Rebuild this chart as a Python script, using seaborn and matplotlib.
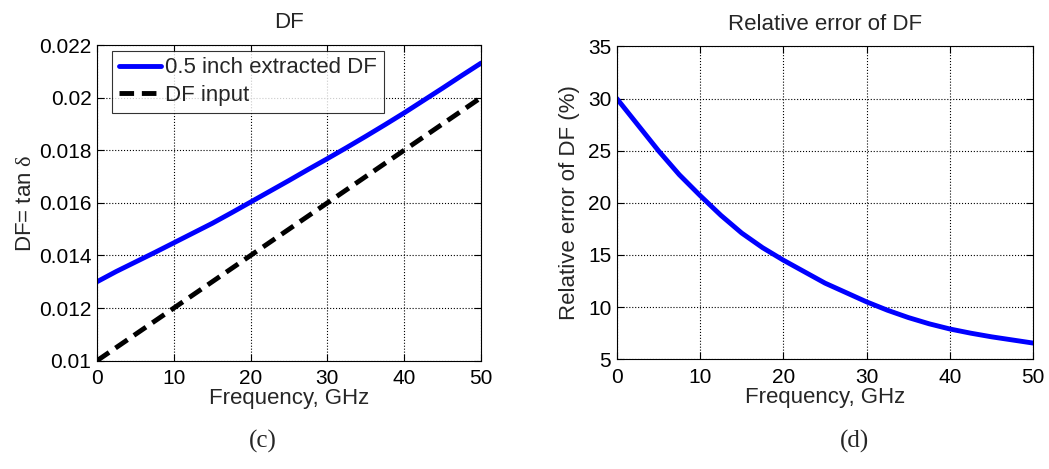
import numpy as np
import pandas as pd
import matplotlib
matplotlib.use("Agg")
import matplotlib.pyplot as plt
import seaborn as sns

freq = [0, 2.5, 5, 7.5, 10, 12.5, 15, 17.5, 20, 22.5, 25, 27.5, 30,
        32.5, 35, 37.5, 40, 42.5, 45, 47.5, 50]
df_extracted = [0.01300, 0.01339, 0.01375, 0.01411, 0.01448, 0.01485, 0.01522,
                0.01562, 0.01603, 0.01644, 0.01685, 0.01727, 0.01768, 0.01810,
                0.01853, 0.01897, 0.01942, 0.01989, 0.02036, 0.02084, 0.02131]
df_input = [0.0100, 0.0105, 0.0110, 0.0115, 0.0120, 0.0125, 0.0130, 0.0135,
            0.0140, 0.0145, 0.0150, 0.0155, 0.0160, 0.0165, 0.0170, 0.0175,
            0.0180, 0.0185, 0.0190, 0.0195, 0.0200]
rel_err = [30.0, 27.5, 25.0, 22.7, 20.7, 18.8, 17.1, 15.7, 14.5, 13.4, 12.3,
           11.4, 10.5, 9.7, 9.0, 8.4, 7.9, 7.5, 7.15, 6.85, 6.55]

sns.set_theme(style="ticks")
plt.rcParams['font.family'] = ['Liberation Sans', 'DejaVu Sans']
plt.rcParams['mathtext.fontset'] = 'custom'
plt.rcParams['mathtext.rm'] = 'Liberation Serif'
plt.rcParams['mathtext.it'] = 'Liberation Serif'

fig = plt.figure(figsize=(10.49, 4.69), dpi=100)
ax1 = fig.add_axes([0.0925, 0.231, 0.366, 0.673])
ax2 = fig.add_axes([0.588, 0.234, 0.397, 0.667])

TFS = 15
LFS = 16

def style(ax):
    ax.grid(True, color='black', linestyle=':', linewidth=0.8)
    ax.tick_params(direction='in', top=True, right=True, labelsize=TFS, length=5,
                   width=0.8, colors='black')
    ax.tick_params(axis='x', pad=6)
    ax.tick_params(axis='y', pad=4)
    for s in ax.spines.values():
        s.set_color('black')
        s.set_linewidth(0.8)
    ax.set_facecolor('white')

d1 = pd.DataFrame({'f': freq, 'ext': df_extracted, 'inp': df_input})
sns.lineplot(data=d1, x='f', y='ext', ax=ax1, color='#0000ff', linewidth=3.5,
             label='0.5 inch extracted DF')
sns.lineplot(data=d1, x='f', y='inp', ax=ax1, color='black', linewidth=3.5,
             linestyle=(0, (3, 1.6)), label='DF input')
ax1.set_xlim(0, 50)
ax1.set_ylim(0.01, 0.022)
ax1.set_xticks([0, 10, 20, 30, 40, 50])
ax1.set_yticks([0.01, 0.012, 0.014, 0.016, 0.018, 0.02, 0.022])
ax1.set_yticklabels(['0.01', '0.012', '0.014', '0.016', '0.018', '0.02', '0.022'])
ax1.set_xlabel('Frequency, GHz', fontsize=LFS, labelpad=0)
ax1.set_ylabel(r'DF= tan $\delta$', fontsize=LFS, labelpad=2)
ax1.set_title('DF', fontsize=LFS, pad=12)
style(ax1)
leg = ax1.legend(loc='upper left', fontsize=16, frameon=True, fancybox=False,
                 edgecolor='black', borderpad=0.3, handlelength=1.9,
                 bbox_to_anchor=(0.039, 0.982), labelspacing=0.3, handletextpad=0.2,
                 borderaxespad=0.0)
leg.get_frame().set_linewidth(0.8)

d2 = pd.DataFrame({'f': freq, 'err': rel_err})
sns.lineplot(data=d2, x='f', y='err', ax=ax2, color='#0000ff', linewidth=3.5)
ax2.set_xlim(0, 50)
ax2.set_ylim(5, 35)
ax2.set_xticks([0, 10, 20, 30, 40, 50])
ax2.set_yticks([5, 10, 15, 20, 25, 30, 35])
ax2.set_xlabel('Frequency, GHz', fontsize=LFS, labelpad=0)
ax2.set_ylabel('Relative error of DF (%)', fontsize=LFS, labelpad=6)
ax2.set_title('Relative error of DF', fontsize=LFS, pad=12)
style(ax2)

fig.text(0.251, 0.058, '(c)', fontsize=18, family='Liberation Serif', ha='center', va='center')
fig.text(0.815, 0.058, '(d)', fontsize=18, family='Liberation Serif', ha='center', va='center')

fig.savefig('out.png', dpi=100, facecolor='white')
